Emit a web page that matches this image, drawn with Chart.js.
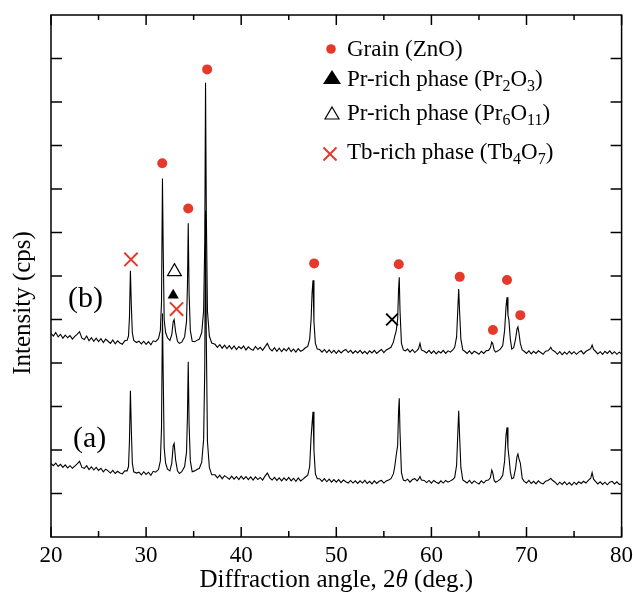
<!DOCTYPE html>
<html>
<head>
<meta charset="utf-8">
<title>XRD patterns</title>
<script src="https://cdn.jsdelivr.net/npm/chart.js@4.4.1/dist/chart.umd.min.js"></script>
<style>
  html, body { margin: 0; padding: 0; background: #fff; }
  #wrap { position: relative; width: 633px; height: 592px; }
</style>
</head>
<body>
<div id="wrap"><canvas id="xrdChart"></canvas></div>
<script>
// diffraction angle 2theta (deg.), shared by both patterns
const angle = [
  20, 20.25, 20.5, 20.75, 21, 21.25, 21.5, 21.75, 22, 22.25, 22.5, 22.75, 23, 23.25, 23.5, 23.75, 24, 24.25, 24.5, 24.75, 25, 25.25, 25.5, 25.75, 26, 26.25, 26.5, 26.75, 27, 27.25, 27.5, 27.75,
  28.0, 28.15, 28.25, 28.35, 28.45, 28.55, 28.7, 29.0,
  29.25, 29.5, 29.75, 30, 30.25, 30.5, 30.75, 31.0,
  31.3, 31.5, 31.62, 31.72, 31.8, 31.9, 32.05, 32.25,
  32.5, 32.7, 32.85, 32.95, 33.1, 33.3,
  33.5, 33.75,
  34.05, 34.25, 34.35, 34.43, 34.52, 34.65, 34.85,
  35.1, 35.35, 35.6,
  35.85, 36.05, 36.17, 36.25, 36.33, 36.45, 36.65, 36.9,
  37.25, 37.5, 37.75, 38, 38.25, 38.5, 38.75, 39, 39.25, 39.5, 39.75,
  40, 40.25, 40.5, 40.75, 41, 41.25, 41.5, 41.75, 42, 42.25, 42.5, 42.75,
  43, 43.25, 43.5, 43.75, 44, 44.25, 44.5, 44.75, 45, 45.25, 45.5, 45.75, 46, 46.25, 46.5, 46.75,
  47.0, 47.2, 47.35, 47.45, 47.55, 47.65, 47.8, 48.0,
  48.25, 48.5, 48.75, 49, 49.25, 49.5, 49.75,
  50, 50.25, 50.5, 50.75, 51, 51.25, 51.5, 51.75, 52, 52.25, 52.5, 52.75,
  53, 53.25, 53.5, 53.75, 54, 54.25, 54.5, 54.75, 55, 55.25, 55.5,
  55.75, 56.0, 56.15, 56.3, 56.45, 56.55, 56.62, 56.7, 56.85, 57.05,
  57.25, 57.5, 57.75, 58.0, 58.25, 58.5,
  58.65, 58.8, 58.95,
  59.25, 59.5, 59.75, 60, 60.25, 60.5, 60.75, 61, 61.25, 61.5, 61.75, 62, 62.25,
  62.45, 62.65, 62.78, 62.87, 62.96, 63.1, 63.3,
  63.5, 63.75, 64, 64.25, 64.5, 64.75, 65, 65.25, 65.5, 65.75, 66,
  66.2, 66.35, 66.45, 66.6,
  66.75, 67.0, 67.25,
  67.5, 67.7, 67.85, 67.95, 68.05, 68.15, 68.3, 68.45,
  68.65, 68.85, 69.0, 69.1, 69.2, 69.35, 69.55,
  69.75, 70, 70.25, 70.5, 70.75, 71, 71.25, 71.5, 71.75, 72, 72.25,
  72.4, 72.55, 72.7,
  73, 73.25, 73.5, 73.75, 74, 74.25, 74.5, 74.75, 75, 75.25, 75.5, 75.75, 76, 76.25, 76.5,
  76.75, 76.9, 77.05,
  77.25, 77.5, 77.75, 78, 78.25, 78.5, 78.75, 79, 79.25, 79.5, 79.75, 80
];

// pattern (b), offset upward
const countsB = [
  4.68, 4.62, 4.70, 4.60, 4.66, 4.57, 4.64, 4.58, 4.63, 4.55, 4.61, 4.66, 4.72, 4.57, 4.54, 4.62, 4.51, 4.58, 4.50, 4.57, 4.49, 4.56, 4.47, 4.55, 4.50, 4.45, 4.53, 4.44, 4.51, 4.46, 4.43, 4.51,
  4.52, 4.62, 5.05, 6.12, 5.30, 4.70, 4.52, 4.47,
  4.50, 4.44, 4.50, 4.43, 4.49, 4.42, 4.51, 4.49,
  4.56, 4.75, 5.40, 8.24, 6.60, 5.00, 4.70, 4.58,
  4.52, 4.65, 4.95, 5.00, 4.72, 4.50,
  4.45, 4.48,
  4.60, 4.95, 5.80, 7.21, 5.60, 4.75, 4.50,
  4.49, 4.52, 4.55,
  4.70, 5.20, 6.80, 10.44, 7.50, 5.20, 4.62, 4.46,
  4.43, 4.36, 4.42, 4.34, 4.41, 4.33, 4.40, 4.32, 4.39, 4.31, 4.38,
  4.33, 4.39, 4.30, 4.37, 4.32, 4.29, 4.38, 4.31, 4.36, 4.29, 4.37, 4.45,
  4.33, 4.28, 4.35, 4.27, 4.34, 4.26, 4.33, 4.28, 4.35, 4.26, 4.32, 4.25, 4.33, 4.27, 4.30, 4.35,
  4.38, 4.55, 5.00, 5.60, 5.90, 4.95, 4.45, 4.32,
  4.31, 4.25, 4.31, 4.24, 4.30, 4.23, 4.29,
  4.22, 4.29, 4.23, 4.28, 4.31, 4.24, 4.29, 4.22, 4.28, 4.23, 4.29, 4.22,
  4.27, 4.21, 4.28, 4.23, 4.29, 4.22, 4.27, 4.31, 4.24, 4.30, 4.33,
  4.36, 4.48, 4.62, 4.74, 5.00, 5.70, 5.97, 5.20, 4.45, 4.30,
  4.28, 4.32, 4.25, 4.31, 4.24, 4.29,
  4.33, 4.45, 4.30,
  4.27, 4.23, 4.29, 4.22, 4.28, 4.21, 4.27, 4.23, 4.29, 4.22, 4.28, 4.25, 4.30,
  4.36, 4.60, 5.25, 5.70, 5.20, 4.55, 4.30,
  4.27, 4.22, 4.28, 4.21, 4.27, 4.24, 4.20, 4.27, 4.22, 4.28, 4.29,
  4.35, 4.48, 4.45, 4.30,
  4.25, 4.28, 4.32,
  4.40, 4.75, 5.30, 5.51, 5.10, 4.99, 4.55, 4.32,
  4.35, 4.55, 4.78, 4.83, 4.70, 4.45, 4.30,
  4.27, 4.22, 4.28, 4.21, 4.27, 4.22, 4.28, 4.24, 4.20, 4.27, 4.28,
  4.31, 4.36, 4.30,
  4.26, 4.20, 4.26, 4.19, 4.25, 4.20, 4.27, 4.21, 4.26, 4.20, 4.25, 4.28, 4.21, 4.27, 4.30,
  4.33, 4.41, 4.31,
  4.27, 4.21, 4.26, 4.20, 4.27, 4.22, 4.28, 4.21, 4.26, 4.20, 4.25, 4.21
];

// pattern (a)
const countsA = [
  1.69, 1.64, 1.70, 1.62, 1.67, 1.60, 1.66, 1.59, 1.64, 1.58, 1.63, 1.68, 1.74, 1.60, 1.58, 1.64, 1.55, 1.61, 1.54, 1.60, 1.53, 1.58, 1.50, 1.56, 1.52, 1.47, 1.53, 1.46, 1.51, 1.47, 1.45, 1.52,
  1.52, 1.62, 2.20, 3.36, 2.45, 1.70, 1.50, 1.47,
  1.49, 1.43, 1.50, 1.44, 1.49, 1.42, 1.51, 1.49,
  1.55, 1.75, 2.50, 5.14, 3.70, 2.05, 1.70, 1.56,
  1.52, 1.70, 2.10, 2.15, 1.78, 1.52,
  1.46, 1.50,
  1.62, 1.95, 2.80, 4.03, 2.60, 1.75, 1.50,
  1.52, 1.55, 1.58,
  1.72, 2.25, 3.90, 7.50, 4.60, 2.20, 1.60, 1.43,
  1.43, 1.36, 1.42, 1.34, 1.41, 1.37, 1.33, 1.40, 1.33, 1.39, 1.32,
  1.40, 1.33, 1.39, 1.32, 1.38, 1.31, 1.38, 1.32, 1.37, 1.31, 1.40, 1.47,
  1.36, 1.31, 1.37, 1.30, 1.36, 1.29, 1.36, 1.30, 1.37, 1.29, 1.35, 1.28, 1.36, 1.29, 1.33, 1.38,
  1.42, 1.62, 2.30, 2.60, 2.88, 2.00, 1.45, 1.34,
  1.34, 1.28, 1.34, 1.27, 1.33, 1.26, 1.32,
  1.26, 1.32, 1.25, 1.31, 1.27, 1.24, 1.30, 1.24, 1.29, 1.23, 1.29, 1.24,
  1.30, 1.23, 1.28, 1.22, 1.29, 1.23, 1.28, 1.30, 1.24, 1.29, 1.31,
  1.34, 1.45, 1.62, 1.88, 2.10, 2.90, 3.19, 2.40, 1.48, 1.31,
  1.29, 1.33, 1.26, 1.32, 1.34, 1.29,
  1.33, 1.39, 1.31,
  1.30, 1.25, 1.30, 1.24, 1.30, 1.26, 1.23, 1.29, 1.24, 1.30, 1.26, 1.29, 1.32,
  1.37, 1.65, 2.40, 2.90, 2.35, 1.60, 1.31,
  1.28, 1.24, 1.30, 1.23, 1.29, 1.25, 1.22, 1.29, 1.24, 1.30, 1.31,
  1.36, 1.54, 1.48, 1.30,
  1.26, 1.29, 1.33,
  1.42, 1.75, 2.35, 2.52, 2.05, 1.85, 1.50, 1.34,
  1.36, 1.58, 1.85, 1.91, 1.80, 1.70, 1.35,
  1.28, 1.24, 1.30, 1.23, 1.28, 1.22, 1.29, 1.24, 1.22, 1.28, 1.30,
  1.32, 1.35, 1.31,
  1.26, 1.20, 1.26, 1.21, 1.27, 1.20, 1.25, 1.19, 1.26, 1.21, 1.27, 1.23, 1.28, 1.24, 1.30,
  1.35, 1.48, 1.33,
  1.28, 1.22, 1.27, 1.21, 1.26, 1.20, 1.26, 1.28, 1.22, 1.27, 1.21, 1.22
];

// phase markers placed above the peaks of pattern (b)
const grainAngle = [31.7, 34.43, 36.42, 47.67, 56.57, 62.98, 66.47, 67.95, 69.35];
const grainLevel = [8.59, 7.55, 10.75, 6.29, 6.27, 5.98, 4.76, 5.91, 5.10];
const pr2o3Angle = [32.85];
const pr2o3Level = [5.56];
const pr6o11Angle = [32.98];
const pr6o11Level = [6.10];
const tb4o7Angle = [28.41, 33.2];
const tb4o7Level = [6.38, 5.24];
const otherAngle = [55.86];
const otherLevel = [5.0];

const xMajorTicks = [20, 30, 40, 50, 60, 70, 80];
const xMinorTicks = [25, 35, 45, 55, 65, 75];
const yTicks = [1, 2, 3, 4, 5, 6, 7, 8, 9, 10, 11];

const legendItems = [
  { marker: 'circle', runs: [['Grain (ZnO)']] },
  { marker: 'triangle', runs: [['Pr-rich phase (Pr'], ['2', 1], ['O'], ['3', 1], [')']] },
  { marker: 'openTriangle', runs: [['Pr-rich phase (Pr'], ['6', 1], ['O'], ['11', 1], [')']] },
  { marker: 'cross', runs: [['Tb-rich phase (Tb'], ['4', 1], ['O'], ['7', 1], [')']] }
];

const RED = '#e5392b';
const SERIF = '"Liberation Serif", "Times New Roman", serif';

const pts = (xs, ys) => xs.map((v, i) => ({ x: v, y: ys[i] }));

const decorations = {
  id: 'decorations',
  afterDraw(chart) {
    const { ctx, chartArea: a, scales: { x, y } } = chart;
    ctx.save();
    ctx.strokeStyle = '#000';
    ctx.fillStyle = '#000';
    ctx.lineWidth = 1.5;
    ctx.strokeRect(a.left, a.top, a.right - a.left, a.bottom - a.top);

    const seg = (x1, y1, x2, y2) => { ctx.beginPath(); ctx.moveTo(x1, y1); ctx.lineTo(x2, y2); ctx.stroke(); };
    xMajorTicks.forEach(v => {
      const px = x.getPixelForValue(v);
      seg(px, a.bottom, px, a.bottom - 10);
      seg(px, a.top, px, a.top + 10);
    });
    xMinorTicks.forEach(v => {
      const px = x.getPixelForValue(v);
      seg(px, a.bottom, px, a.bottom - 6);
      seg(px, a.top, px, a.top + 5);
    });
    yTicks.forEach(v => {
      const py = y.getPixelForValue(v);
      seg(a.left, py, a.left + 11, py);
      seg(a.right, py, a.right - 11, py);
    });

    // axis titles
    ctx.textBaseline = 'alphabetic';
    const xRuns = [['Diffraction angle, 2', ''], ['\u03B8', 'italic '], [' (deg.)', '']];
    let w = 0;
    xRuns.forEach(([t, st]) => { ctx.font = st + '25px ' + SERIF; w += ctx.measureText(t).width; });
    let cx = (a.left + a.right) / 2 - w / 2;
    xRuns.forEach(([t, st]) => {
      ctx.font = st + '25px ' + SERIF;
      ctx.textAlign = 'left';
      ctx.fillText(t, cx, 587);
      cx += ctx.measureText(t).width;
    });

    ctx.save();
    ctx.translate(30, 303);
    ctx.rotate(-Math.PI / 2);
    ctx.font = '25px ' + SERIF;
    ctx.textAlign = 'center';
    ctx.fillText('Intensity (cps)', 0, 0);
    ctx.restore();

    // pattern labels
    ctx.font = '30px ' + SERIF;
    ctx.textAlign = 'left';
    ctx.fillText('(b)', 68, 307);
    ctx.fillText('(a)', 73, 447);

    // legend
    const rows = [
      { mx: 331, my: 49, ty: 56 },
      { mx: 332, my: 77, ty: 86 },
      { mx: 332, my: 113, ty: 120 },
      { mx: 330, my: 154, ty: 159 }
    ];
    legendItems.forEach((item, i) => {
      const r = rows[i];
      ctx.lineWidth = 1.2;
      if (item.marker === 'circle') {
        ctx.fillStyle = RED;
        ctx.beginPath(); ctx.arc(r.mx, r.my, 4.8, 0, Math.PI * 2); ctx.fill();
      } else if (item.marker === 'triangle') {
        ctx.fillStyle = '#000';
        ctx.beginPath(); ctx.moveTo(r.mx, r.my - 7); ctx.lineTo(r.mx + 9, r.my + 7); ctx.lineTo(r.mx - 9, r.my + 7); ctx.closePath(); ctx.fill();
      } else if (item.marker === 'openTriangle') {
        ctx.strokeStyle = '#000';
        ctx.beginPath(); ctx.moveTo(r.mx, r.my - 6); ctx.lineTo(r.mx + 7, r.my + 6); ctx.lineTo(r.mx - 7, r.my + 6); ctx.closePath(); ctx.stroke();
      } else {
        ctx.strokeStyle = RED;
        ctx.lineWidth = 2;
        seg(r.mx - 6.5, r.my - 6.5, r.mx + 6.5, r.my + 6.5);
        seg(r.mx - 6.5, r.my + 6.5, r.mx + 6.5, r.my - 6.5);
      }
      ctx.fillStyle = '#000';
      let tx = 347;
      item.runs.forEach(([t, sub]) => {
        ctx.font = (sub ? '16px ' : '23px ') + SERIF;
        ctx.fillText(t, tx, sub ? r.ty + 5 : r.ty);
        tx += ctx.measureText(t).width;
      });
    });
    ctx.restore();
  }
};

new Chart(document.getElementById('xrdChart'), {
  type: 'scatter',
  data: {
    datasets: [
      {
        label: 'Grain (ZnO)',
        data: pts(grainAngle, grainLevel),
        pointStyle: 'circle',
        pointRadius: 5,
        backgroundColor: RED,
        borderColor: RED,
        borderWidth: 0,
        order: 0
      },
      {
        label: 'Pr-rich phase (Pr2O3)',
        data: pts(pr2o3Angle, pr2o3Level),
        pointStyle: 'triangle',
        pointRadius: 6.5,
        backgroundColor: '#000',
        borderColor: '#000',
        borderWidth: 0,
        order: 0
      },
      {
        label: 'Pr-rich phase (Pr6O11)',
        data: pts(pr6o11Angle, pr6o11Level),
        pointStyle: 'triangle',
        pointRadius: 8,
        backgroundColor: 'rgba(255,255,255,0)',
        borderColor: '#000',
        borderWidth: 1.2,
        order: 0
      },
      {
        label: 'Tb-rich phase (Tb4O7)',
        data: pts(tb4o7Angle, tb4o7Level),
        pointStyle: 'crossRot',
        pointRadius: 9.4,
        borderColor: RED,
        borderWidth: 2,
        order: 0
      },
      {
        label: 'other',
        data: pts(otherAngle, otherLevel),
        pointStyle: 'crossRot',
        pointRadius: 8.3,
        borderColor: '#000',
        borderWidth: 2,
        order: 0
      },
      {
        label: '(b)',
        data: pts(angle, countsB),
        showLine: true,
        borderColor: '#000',
        borderWidth: 1.1,
        pointRadius: 0,
        tension: 0,
        order: 1
      },
      {
        label: '(a)',
        data: pts(angle, countsA),
        showLine: true,
        borderColor: '#000',
        borderWidth: 1.1,
        pointRadius: 0,
        tension: 0,
        order: 1
      }
    ]
  },
  options: {
    responsive: true,
    maintainAspectRatio: false,
    animation: false,
    layout: { padding: { left: 12, right: 11, top: 15, bottom: 15 } },
    plugins: {
      legend: { display: false },
      tooltip: { enabled: false }
    },
    scales: {
      x: {
        type: 'linear',
        min: 20,
        max: 80,
        afterFit: (s) => { s.height = 40; s.paddingLeft = 0; s.paddingRight = 0; },
        ticks: {
          stepSize: 10,
          color: '#000',
          padding: 5,
          font: { family: SERIF, size: 23 }
        },
        grid: { display: false, drawTicks: false },
        border: { display: false }
      },
      y: {
        type: 'linear',
        min: 0,
        max: 12,
        afterFit: (s) => { s.width = 39; s.paddingTop = 0; s.paddingBottom = 0; },
        ticks: { display: false },
        grid: { display: false, drawTicks: false },
        border: { display: false }
      }
    }
  },
  plugins: [decorations]
});
</script>
</body>
</html>
